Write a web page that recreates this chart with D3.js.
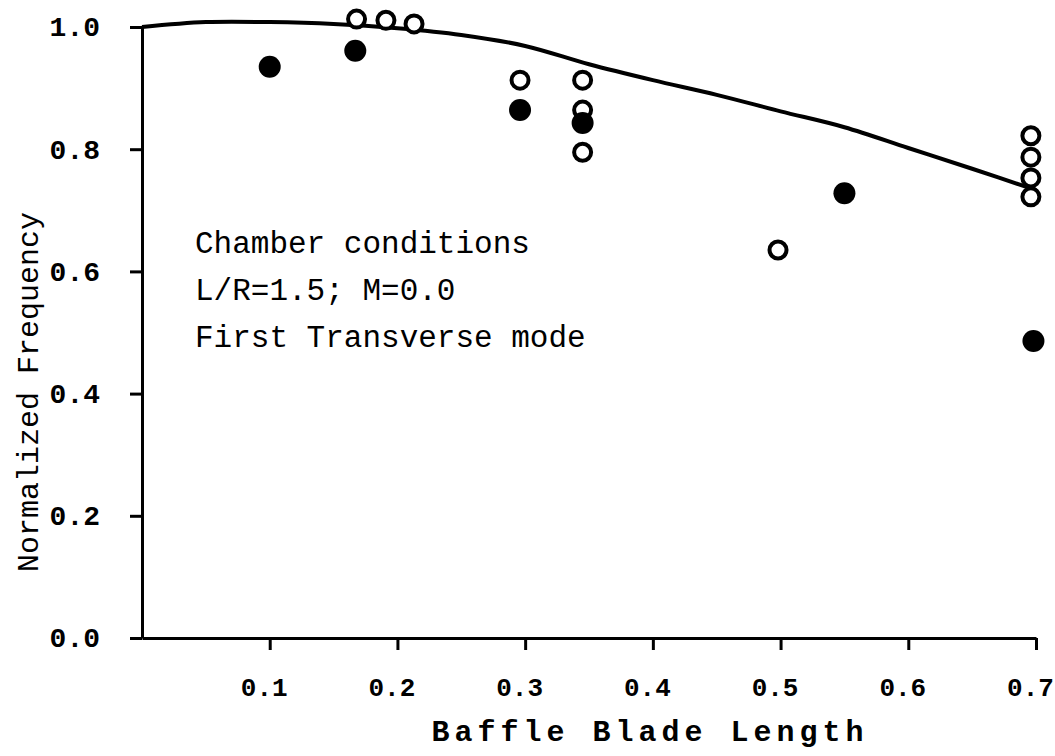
<!DOCTYPE html>
<html>
<head>
<meta charset="utf-8">
<script src="https://cdn.jsdelivr.net/npm/d3@7"></script>
<style>
  body { margin: 0; background: #fff; }
  svg { display: block; }
</style>
</head>
<body>
<div id="chart"></div>
<script>
// curve (theory)
const curveX = [0, 0.05, 0.1, 0.15, 0.2, 0.25, 0.3, 0.35, 0.4, 0.45, 0.5, 0.55, 0.6, 0.65, 0.7];
const curveY = [1.0, 1.008, 1.008, 1.005, 0.998, 0.987, 0.969, 0.939, 0.913, 0.889, 0.862, 0.836, 0.802, 0.768, 0.733];

// open circles
const openX = [0.168, 0.191, 0.213, 0.296, 0.345, 0.345, 0.345, 0.498, 0.696, 0.696, 0.696, 0.696];
const openY = [1.013, 1.011, 1.005, 0.913, 0.913, 0.864, 0.795, 0.635, 0.822, 0.787, 0.753, 0.722];

// filled circles
const filledX = [0.100, 0.167, 0.296, 0.345, 0.550, 0.698];
const filledY = [0.935, 0.961, 0.864, 0.843, 0.728, 0.486];

const xTicks = [0.1, 0.2, 0.3, 0.4, 0.5, 0.6, 0.7];
const yTicks = [0.0, 0.2, 0.4, 0.6, 0.8, 1.0];
const notes = ['Chamber conditions', 'L/R=1.5; M=0.0', 'First Transverse mode'];

const font = "'Liberation Mono', 'Courier New', monospace";

const svg = d3.select('#chart')
    .append('svg')
    .attr('width', 1055)
    .attr('height', 756);

const x = d3.scaleLinear().domain([0, 0.7]).range([142, 1036]);
const y = d3.scaleLinear().domain([0, 1]).range([638, 27]);

// y axis
const yAxis = svg.append('g')
    .attr('transform', 'translate(' + x(0) + ',0)')
    .call(d3.axisLeft(y).tickValues(yTicks).tickSize(12).tickSizeOuter(0).tickFormat(d3.format('.1f')));
yAxis.select('.domain').attr('stroke', '#000').attr('stroke-width', 3);
yAxis.selectAll('.tick line').attr('stroke', '#000').attr('stroke-width', 3);
yAxis.selectAll('.tick text')
    .attr('x', -42)
    .attr('font-family', font)
    .attr('font-weight', 'bold')
    .attr('font-size', '28px')
    .attr('fill', '#000');

// x axis
const xAxis = svg.append('g')
    .attr('transform', 'translate(0,' + y(0) + ')')
    .call(d3.axisBottom(x).tickValues(xTicks).tickSize(12).tickSizeOuter(0).tickFormat(d3.format('.1f')));
xAxis.select('.domain').attr('stroke', '#000').attr('stroke-width', 3);
xAxis.selectAll('.tick line').attr('stroke', '#000').attr('stroke-width', 3);
xAxis.selectAll('.tick text')
    .attr('y', 40)
    .attr('dx', -6)
    .attr('font-family', font)
    .attr('font-weight', 'bold')
    .attr('font-size', '26px')
    .attr('fill', '#000');

// axis titles
svg.append('text')
    .attr('transform', 'translate(38,392) rotate(-90)')
    .attr('text-anchor', 'middle')
    .attr('font-family', font)
    .attr('font-size', '30px')
    .attr('fill', '#000')
    .text('Normalized Frequency');

svg.append('text')
    .attr('x', 650)
    .attr('y', 741)
    .attr('text-anchor', 'middle')
    .attr('font-family', font)
    .attr('font-weight', 'bold')
    .attr('font-size', '30px')
    .attr('letter-spacing', '5px')
    .attr('fill', '#000')
    .text('Baffle Blade Length');

// annotation
svg.selectAll('.note')
    .data(notes)
    .enter()
    .append('text')
    .attr('class', 'note')
    .attr('x', 195)
    .attr('y', (d, i) => 253 + i * 47)
    .attr('font-family', font)
    .attr('font-size', '31px')
    .attr('fill', '#000')
    .text(d => d);

// curve
const line = d3.line()
    .x(d => x(d[0]))
    .y(d => y(d[1]))
    .curve(d3.curveCatmullRom);

svg.append('path')
    .datum(curveX.map((d, i) => [d, curveY[i]]))
    .attr('d', line)
    .attr('fill', 'none')
    .attr('stroke', '#000')
    .attr('stroke-width', 4);

// open points
svg.selectAll('.open')
    .data(openX.map((d, i) => [d, openY[i]]))
    .enter()
    .append('circle')
    .attr('class', 'open')
    .attr('cx', d => x(d[0]))
    .attr('cy', d => y(d[1]))
    .attr('r', 8.5)
    .attr('fill', '#fff')
    .attr('stroke', '#000')
    .attr('stroke-width', 4);

// filled points
svg.selectAll('.filled')
    .data(filledX.map((d, i) => [d, filledY[i]]))
    .enter()
    .append('circle')
    .attr('class', 'filled')
    .attr('cx', d => x(d[0]))
    .attr('cy', d => y(d[1]))
    .attr('r', 11)
    .attr('fill', '#000');
</script>
</body>
</html>
